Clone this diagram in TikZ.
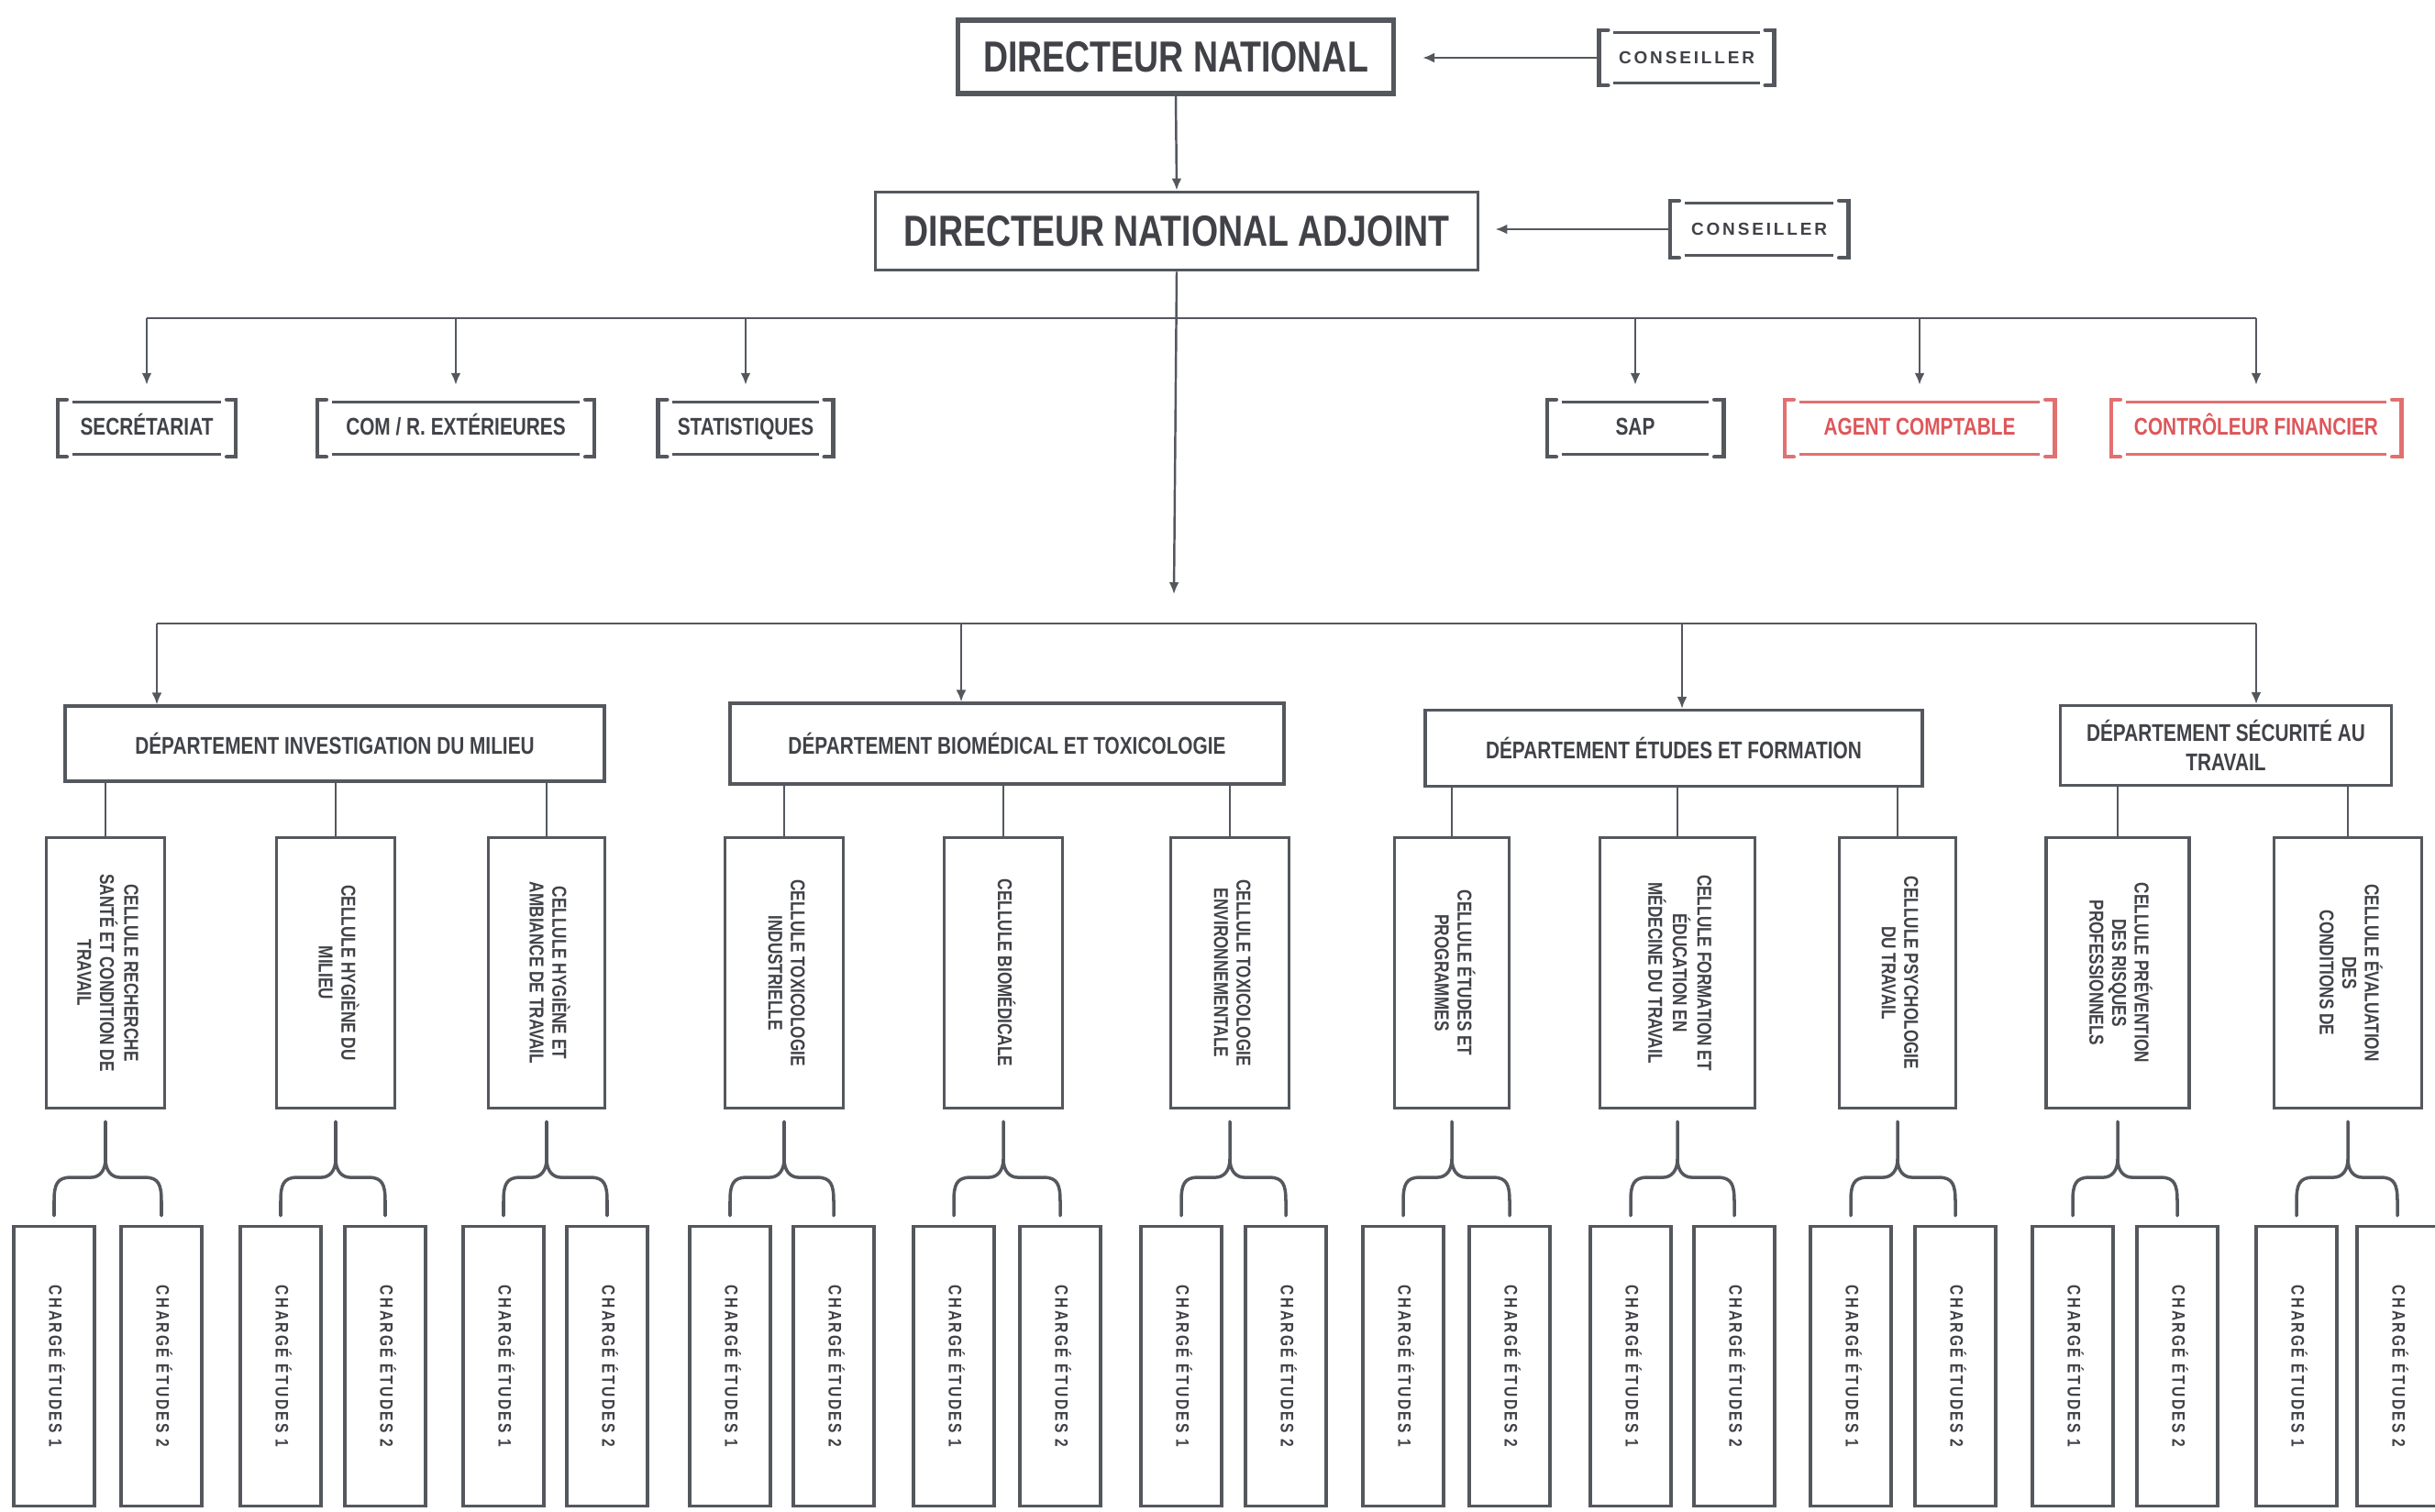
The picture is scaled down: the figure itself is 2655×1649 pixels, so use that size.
\documentclass[tikz,border=0pt]{standalone}
\usepackage{fontspec}
\usepackage{graphicx}
\setmainfont{Liberation Sans}
\newfontfamily\condfont{Liberation Sans}[FakeStretch=0.79]
\newfontfamily\condspaced{Liberation Sans}[FakeStretch=0.79,LetterSpace=12]
\newfontfamily\spacedfont{Liberation Sans}[LetterSpace=15]
\usetikzlibrary{arrows.meta,calc}

\definecolor{ink}{RGB}{64,66,71}
\definecolor{linegray}{RGB}{84,88,94}
\definecolor{redbox}{RGB}{226,112,112}
\definecolor{redtext}{RGB}{222,86,90}

% rotated text for the narrow boxes
\newcommand{\sidetext}[1]{\rotatebox{-90}{\begin{tabular}{@{}c@{}}#1\end{tabular}}}

\tikzset{
  conn/.style={draw=linegray, line width=0.7pt},
  arr/.style={conn, -{Latex[length=1.3mm,width=1.1mm]}},
  chief/.style={draw=linegray, text=ink, inner sep=0pt, font=\condfont\bfseries\fontsize{13.5}{15}\selectfont},
  brk/.style={text=ink, inner sep=0pt, text height=5.4pt, text depth=1.2pt, font=\condfont\bfseries\fontsize{7.5}{9}\selectfont},
  advbox/.style={brk, text height=3.9pt, text depth=0pt, font=\spacedfont\bfseries\fontsize{5.4}{6}\selectfont},
  dept/.style={draw=linegray, line width=0.9pt, text=ink, inner sep=0pt, align=center, font=\condfont\bfseries\fontsize{7.5}{9}\selectfont},
  cell/.style={draw=linegray, line width=0.9pt, text=ink, inner sep=0pt, minimum height=29.5mm, font=\condfont\bfseries\fontsize{6.2}{7}\selectfont},
  chargebox/.style={cell, minimum width=8.8mm, minimum height=30.5mm, font=\condspaced\bfseries\fontsize{5.6}{6.3}\selectfont},
  brace/.style={draw=linegray, line width=1pt, line cap=round},
}

\begin{document}
\begin{tikzpicture}[x=0.1mm,y=-0.1mm]
\useasboundingbox (0,0) rectangle (2655,1649);

% direction
\node[chief, line width=1.5pt, minimum width=47.5mm, minimum height=8mm] (dn) at (1282,62) {DIRECTEUR NATIONAL};
\node[chief, line width=1.1pt, minimum width=65.7mm, minimum height=8.5mm] (dna) at (1283,252) {DIRECTEUR NATIONAL ADJOINT};
\node[advbox, minimum width=19mm, minimum height=5.9mm] (cons1) at (1839,63) {CONSEILLER};
\node[advbox, minimum width=19.3mm, minimum height=6.1mm] (cons2) at (1918,250) {CONSEILLER};

\draw[arr] (dn.south) -- (dna.north);
\draw[arr, shorten >=2.9mm] (cons1.west) -- (cons1.west -| dn.east);
\draw[arr, shorten >=1.7mm] (cons2.west) -- (cons2.west -| dna.east);

% services rattaches
\node[brk, minimum width=19.3mm, minimum height=6.1mm] (secr) at (160,467) {SECRÉTARIAT};
\node[brk, minimum width=30.1mm, minimum height=6.1mm] (comm) at (497,467) {COM / R. EXTÉRIEURES};
\node[brk, minimum width=19mm, minimum height=6.1mm] (stat) at (813,467) {STATISTIQUES};
\node[brk, minimum width=19.1mm, minimum height=6.1mm] (sap) at (1783,467) {SAP};
\node[brk, text=redtext, minimum width=29.3mm, minimum height=6.1mm] (agent) at (2093,467) {AGENT COMPTABLE};
\node[brk, text=redtext, minimum width=31.5mm, minimum height=6.1mm] (ctrl) at (2460,467) {CONTRÔLEUR FINANCIER};

\foreach \n/\c in {cons1/linegray,cons2/linegray,secr/linegray,comm/linegray,stat/linegray,sap/linegray,agent/redbox,ctrl/redbox}{
  \draw[\c, line width=1.3pt, line cap=round] ([xshift=1mm]\n.north west) -- (\n.north west) -- (\n.south west) -- ([xshift=1mm]\n.south west);
  \draw[\c, line width=1.3pt, line cap=round] ([xshift=-1mm]\n.north east) -- (\n.north east) -- (\n.south east) -- ([xshift=-1mm]\n.south east);
  \draw[\c, line width=0.9pt] ([xshift=1.6mm,yshift=-0.3mm]\n.north west) -- ([xshift=-1.6mm,yshift=-0.3mm]\n.north east);
  \draw[\c, line width=0.9pt] ([xshift=1.6mm,yshift=0.3mm]\n.south west) -- ([xshift=-1.6mm,yshift=0.3mm]\n.south east);
}

\coordinate (sbus) at (1280,347);
\draw[conn] (secr.north |- sbus) -- (ctrl.north |- sbus);
\foreach \n in {secr,comm,stat,sap,agent,ctrl}
  \draw[arr, shorten >=1.6mm] (\n.north |- sbus) -- (\n.north);

% departements
\coordinate (hub) at (1280,648);
\draw[arr] (dna.south) -- (hub);

\node[dept, minimum width=58.8mm, minimum height=8.2mm] (dep1) at (365,811) {DÉPARTEMENT INVESTIGATION DU MILIEU};
\node[dept, minimum width=60.4mm, minimum height=8.8mm] (dep2) at (1098,811) {DÉPARTEMENT BIOMÉDICAL ET TOXICOLOGIE};
\node[dept, minimum width=54.2mm, minimum height=8.3mm] (dep3) at (1825,816) {DÉPARTEMENT ÉTUDES ET FORMATION};
\node[dept, minimum width=36.1mm, minimum height=8.7mm] (dep4) at (2427,813) {DÉPARTEMENT SÉCURITÉ AU\\TRAVAIL};

\coordinate (bus1) at (171,680);
\coordinate (bus2) at (1048,680);
\coordinate (bus3) at (1834,680);
\coordinate (bus4) at (2460,680);
\draw[conn] (bus1) -- (bus4);
\foreach \i in {1,...,4}
  \draw[arr] (bus\i) -- (bus\i |- dep\i.north);

% cellules
\node[cell, minimum width=12.9mm] (c1) at (115,1061) {\sidetext{CELLULE RECHERCHE\\SANTÉ ET CONDITION DE\\TRAVAIL}};
\node[cell, minimum width=12.9mm] (c2) at (366,1061) {\sidetext{CELLULE HYGIÈNE DU\\MILIEU}};
\node[cell, minimum width=12.7mm] (c3) at (596,1061) {\sidetext{CELLULE HYGIÈNE ET\\AMBIANCE DE TRAVAIL}};
\node[cell, minimum width=12.9mm] (c4) at (855,1061) {\sidetext{CELLULE TOXICOLOGIE\\INDUSTRIELLE}};
\node[cell, minimum width=12.9mm] (c5) at (1094,1061) {\sidetext{CELLULE BIOMÉDICALE}};
\node[cell, minimum width=12.9mm] (c6) at (1341,1061) {\sidetext{CELLULE TOXICOLOGIE\\ENVIRONNEMENTALE}};
\node[cell, minimum width=12.5mm] (c7) at (1583,1061) {\sidetext{CELLULE ÉTUDES ET\\PROGRAMMES}};
\node[cell, minimum width=16.9mm] (c8) at (1829,1061) {\sidetext{CELLULE FORMATION ET\\ÉDUCATION EN\\MÉDECINE DU TRAVAIL}};
\node[cell, minimum width=12.7mm] (c9) at (2069,1061) {\sidetext{CELLULE PSYCHOLOGIE\\DU TRAVAIL}};
\node[cell, minimum width=15.6mm] (c10) at (2309,1061) {\sidetext{CELLULE PRÉVENTION\\DES RISQUES\\PROFESSIONNELS}};
\node[cell, minimum width=16.1mm] (c11) at (2560,1061) {\sidetext{CELLULE ÉVALUATION\\DES\\CONDITIONS DE}};

\foreach \c/\d in {c1/dep1,c2/dep1,c3/dep1,c4/dep2,c5/dep2,c6/dep2,c7/dep3,c8/dep3,c9/dep3,c10/dep4,c11/dep4}
  \draw[conn] (\c.north |- \d.south) -- (\c.north);

% charges d'etudes
\foreach \x [count=\i] in {59,176,306,420,549,662,796,909,1040,1156,1288,1402,1530,1646,1778,1891,2018,2132,2260,2374,2504,2614}{
  \pgfmathtruncatemacro\k{2-mod(\i,2)}
  \node[chargebox] (b\i) at (\x,1490) {\sidetext{CHARGÉ ÉTUDES \k}};
}

\foreach \i in {1,...,11}{
  \pgfmathtruncatemacro\l{2*\i-1}
  \pgfmathtruncatemacro\r{2*\i}
  \draw[brace] let \p1=(c\i.south), \p2=(b\l.north), \p3=(b\r.north) in
    (\x1,\y1-1.3mm) -- (\x1,\y1-5.4mm)
    .. controls (\x1,\y1-6.6mm) and (\x1-0.6mm,\y1-7.4mm) .. (\x1-1.6mm,\y1-7.4mm)
    -- (\x2+1.8mm,\y1-7.4mm) .. controls (\x2+0.3mm,\y1-7.4mm) and (\x2,\y1-8.2mm) .. (\x2,\y1-10mm)
    -- (\x2,\y2+1mm)
    (\x1,\y1-5.4mm) .. controls (\x1,\y1-6.6mm) and (\x1+0.6mm,\y1-7.4mm) .. (\x1+1.6mm,\y1-7.4mm)
    -- (\x3-1.8mm,\y1-7.4mm) .. controls (\x3-0.3mm,\y1-7.4mm) and (\x3,\y1-8.2mm) .. (\x3,\y1-10mm)
    -- (\x3,\y3+1mm);
}
\end{tikzpicture}
\end{document}
